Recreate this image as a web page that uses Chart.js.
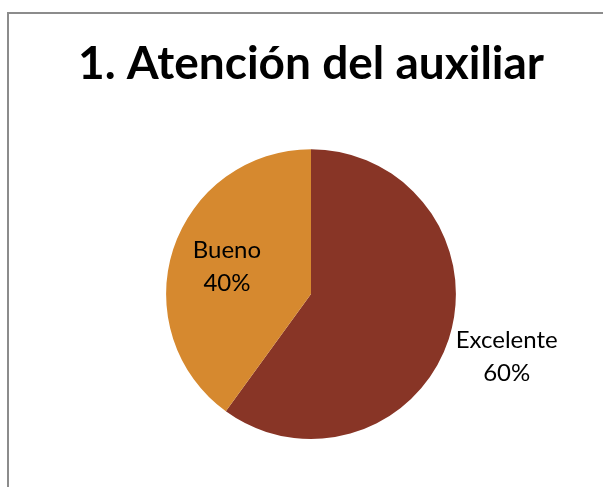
<!DOCTYPE html>
<html>
<head>
<meta charset="utf-8">
<script src="https://cdn.jsdelivr.net/npm/chart.js@4"></script>
<style>
  html, body { margin: 0; padding: 0; background: #fff; overflow: hidden; }
  #frame { position: absolute; left: 7px; top: 12px; width: 700px; height: 600px; border: 2px solid #8c8c8c; }
  #wrap { position: absolute; left: 0; top: 0; width: 603px; height: 487px; }
</style>
</head>
<body>
<div id="frame"></div>
<div id="wrap"><canvas id="myChart"></canvas></div>
<script>
var titleText = '1. Atención del auxiliar';
var categories = ['Excelente', 'Bueno'];
var values = [60, 40];
var percentLabels = ['60%', '40%'];
var colors = ['#883526', '#D6892F'];

// where each label goes, as a fraction of the radius from the centre
var labelDist = [1.42, 0.61];

var pieLabels = {
  id: 'pieLabels',
  afterDatasetsDraw: function(chart) {
    var ctx = chart.ctx;
    var meta = chart.getDatasetMeta(0);
    ctx.save();
    ctx.font = '24px Lato';
    ctx.fillStyle = '#000';
    ctx.textAlign = 'center';
    ctx.textBaseline = 'middle';
    for (var i = 0; i < meta.data.length; i++) {
      var arc = meta.data[i];
      var mid = (arc.startAngle + arc.endAngle) / 2;
      var r = arc.outerRadius * labelDist[i];
      var x = arc.x + Math.cos(mid) * r;
      var y = arc.y + Math.sin(mid) * r;
      ctx.fillText(categories[i], x, y - 17);
      ctx.fillText(percentLabels[i], x, y + 16);
    }
    ctx.restore();
  }
};

const ctx = document.getElementById('myChart');
var chart = new Chart(ctx, {
  type: 'pie',
  data: {
    labels: categories,
    datasets: [{
      data: values,
      backgroundColor: colors,
      borderWidth: 0
    }]
  },
  options: {
    responsive: true,
    maintainAspectRatio: false,
    animation: false,
    layout: { padding: { left: 19, right: 0, top: 0, bottom: 48 } },
    plugins: {
      legend: { display: false },
      tooltip: { enabled: false },
      title: {
        display: true,
        text: titleText,
        color: '#000',
        font: { family: 'Lato', size: 46, weight: 'bold' },
        padding: { top: 37, bottom: 57 }
      }
    }
  },
  plugins: [pieLabels]
});
</script>
</body>
</html>
